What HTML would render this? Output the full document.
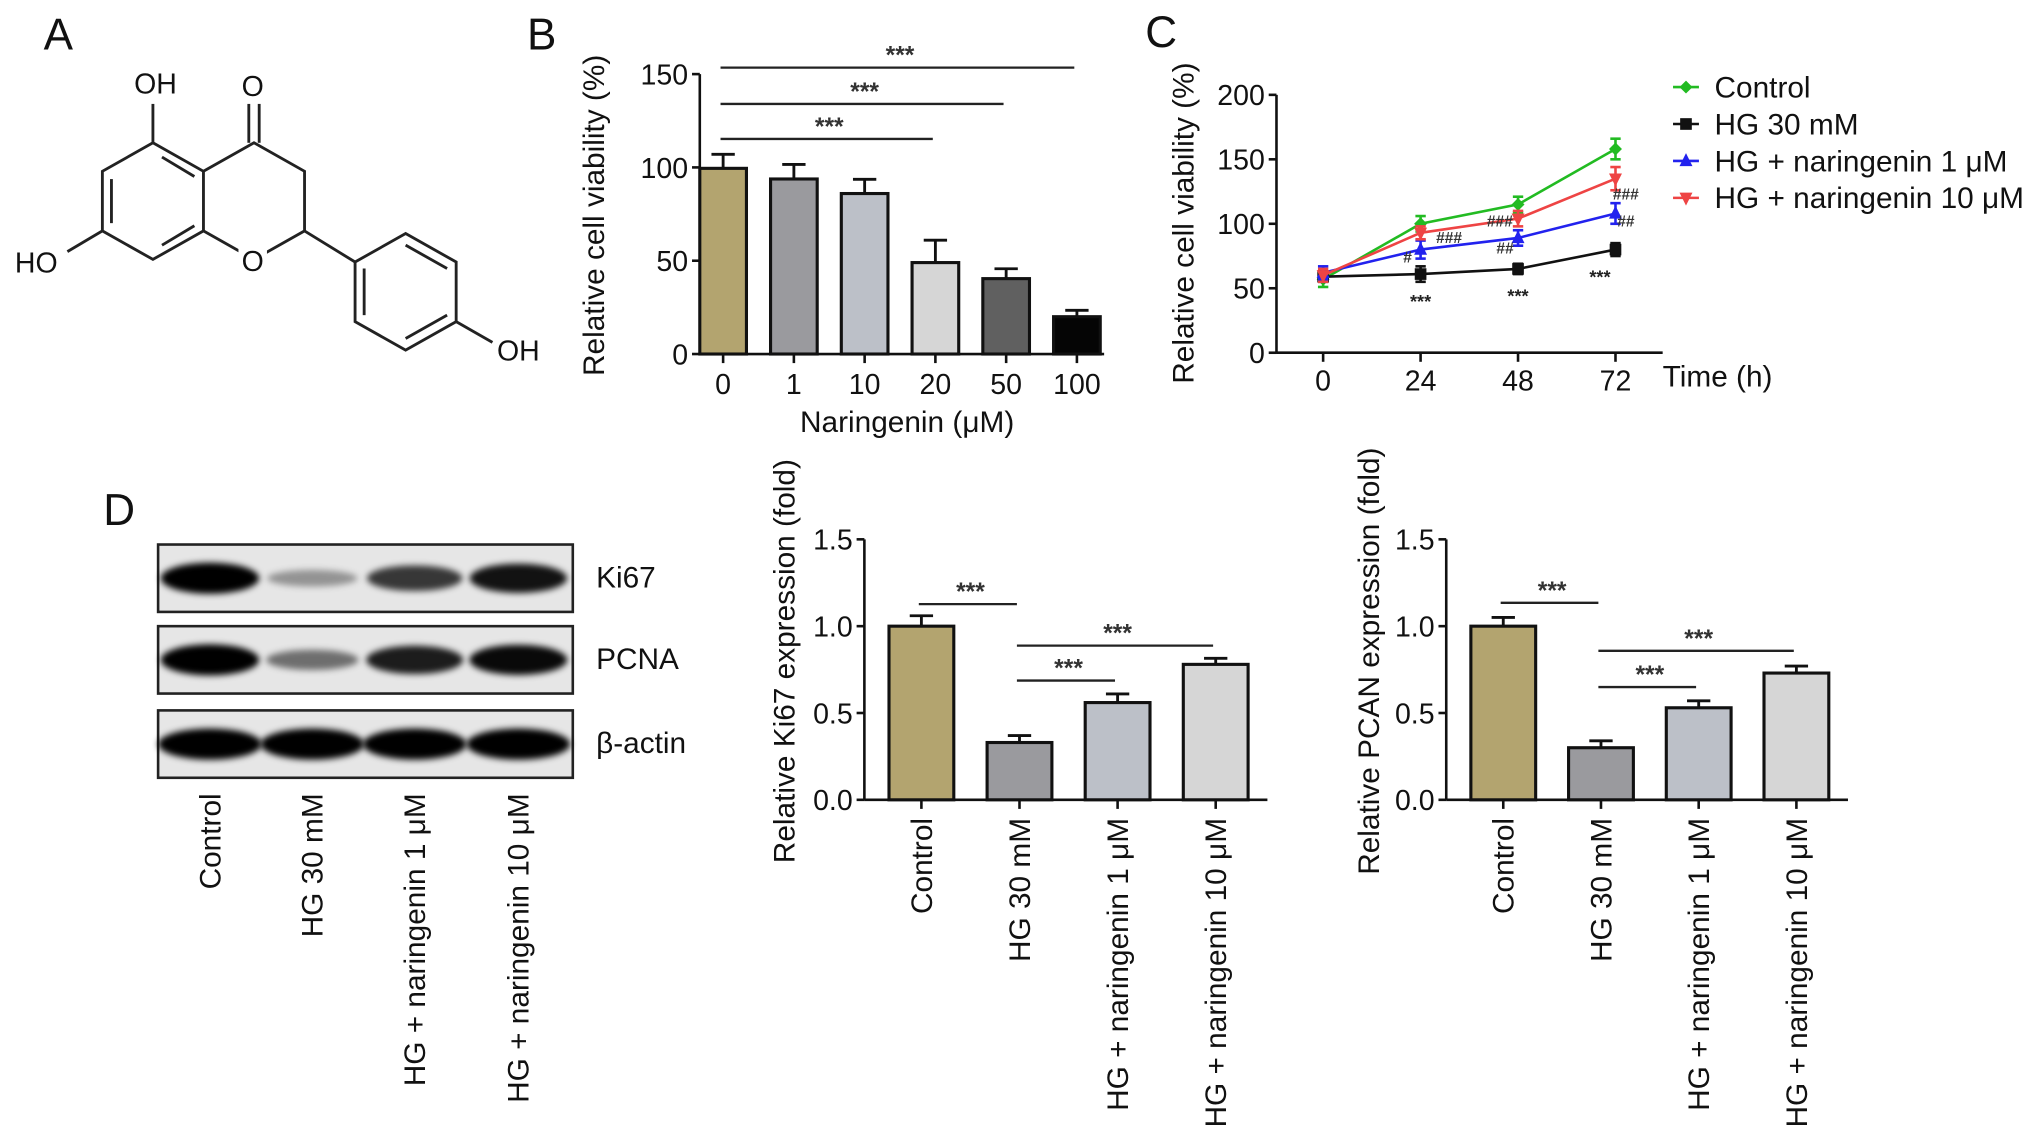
<!DOCTYPE html>
<html><head><meta charset="utf-8"><style>
html,body{margin:0;padding:0;background:#fff;}
svg{display:block;font-family:"Liberation Sans",Arial,sans-serif;}
</style></head><body>
<svg id="fig" width="2032" height="1137" viewBox="0 0 1568 877" xmlns="http://www.w3.org/2000/svg">
<defs>
<filter id="blur" x="-20%" y="-50%" width="140%" height="200%"><feGaussianBlur stdDeviation="2.5"/></filter>
</defs>
<g stroke="#222" stroke-width="2.2" fill="none">
<text x="45" y="38" font-size="34" fill="#111" stroke="none" text-anchor="middle">A</text>
<polygon points="118,110 157,132 157,178 118,200 79,178 79,132"/>
<line x1="125" y1="121" x2="150" y2="136"/><line x1="150" y1="174" x2="125" y2="189"/><line x1="86" y1="172" x2="86" y2="138"/>
<polyline points="157,132 196,110 235,132 235,178 196,200 157,178"/>
<line x1="118" y1="110" x2="118" y2="80"/>
<line x1="79" y1="178" x2="52" y2="194"/>
<line x1="192" y1="110" x2="192" y2="80"/><line x1="200" y1="110" x2="200" y2="80"/>
<line x1="235" y1="178" x2="274" y2="202"/>
<polygon points="313,180 352,202 352,248 313,270 274,248 274,202"/>
<line x1="313" y1="189" x2="345" y2="207"/><line x1="345" y1="243" x2="313" y2="261"/><line x1="281" y1="243" x2="281" y2="207"/>
<line x1="352" y1="248" x2="380" y2="264"/>
<g fill="#111" stroke="none" font-size="22" text-anchor="middle">
<rect x="184" y="190" width="22" height="22" fill="#fff"/>
<text x="120" y="72">OH</text><text x="195" y="74">O</text><text x="28" y="210">HO</text><text x="195" y="209">O</text><text x="400" y="278">OH</text>
</g>
</g>
<g id="pb"></g>
<g id="pc"></g>
<g id="pd"></g>
<g id="pk"></g>
<g id="pp"></g>
</svg>
<script>
const NS="http://www.w3.org/2000/svg";
// Panel B data
const bCats=["0","1","10","20","50","100"];
const bVals=[99.5,93.8,86,49,40.4,20];
const bErr=[7.5,7.8,7.6,12,5.3,3.4];
const bTicks=[0,50,100,150];
const bColors=["#b3a46f","#9a9a9e","#bcc0c8","#d6d6d6","#606060","#050505"];
// Panel C data
const cTimes=[0,24,48,72];
const cTicks=[0,50,100,150,200];
const cNames=["Control","HG 30 mM","HG + naringenin 1 μM","HG + naringenin 10 μM"];
const cControl=[57,100,115,158];
const cHG=[59,61,65,80];
const cN1=[62,80,89,108];
const cN10=[60,93,104,135];
const cErrC=[6,6,6,8];
const cErrH=[4,6,4,5];
const cErrN1=[5,7,6,8];
const cErrN10=[5,5,6,9];
// Panel D data
const dCats=["Control","HG 30 mM","HG + naringenin 1 μM","HG + naringenin 10 μM"];
const kVals=[1.0,0.33,0.56,0.78];
const kErr=[0.06,0.04,0.05,0.035];
const pVals=[1.0,0.30,0.53,0.73];
const pErr=[0.05,0.04,0.04,0.04];
const dTicks=["0.0","0.5","1.0","1.5"];
const dColors=["#b3a46f","#9a9a9e","#bcc0c8","#d6d6d6"];
const blotNames=["Ki67","PCNA","β-actin"];
const blotIntensity=[[1,0.2,0.7,0.9],[1,0.4,0.85,0.95],[1,1,1,1]];

const FT=22, FL=23;
function el(tag,attrs,parent,txt){const e=document.createElementNS(NS,tag);for(const k in attrs)e.setAttribute(k,attrs[k]);if(txt!==undefined)e.textContent=txt;parent.appendChild(e);return e;}

function barChart(g,o){
  const y=v=>o.y0-(v-o.min)/(o.max-o.min)*(o.y0-o.yTop);
  const x=i=>o.x0+i*o.step;
  const ax=el("g",{},g);
  
  
  el("line",{x1:o.ax,y1:o.y0,x2:o.ax,y2:o.yTop,stroke:"#111","stroke-width":2},ax);
  o.ticks.forEach(t=>{const v=parseFloat(t);const yy=y(v);
    el("line",{x1:o.ax-6,y1:yy,x2:o.ax,y2:yy,stroke:"#111","stroke-width":2},ax);
    const tt=el("text",{x:o.ax-9,y:yy+8,"font-size":FT,"text-anchor":"end",fill:"#111"},ax,t);
    
    
  });
  const xa=el("line",{x1:o.ax,y1:o.y0,x2:o.axEnd,y2:o.y0,stroke:"#111","stroke-width":2},g);
  
  
  o.vals.forEach((v,i)=>{const cx=x(i);const top=y(v);
    el("line",{x1:cx,y1:top,x2:cx,y2:y(v+o.err[i]),stroke:"#111","stroke-width":2.2},g);
    el("line",{x1:cx-9,y1:y(v+o.err[i]),x2:cx+9,y2:y(v+o.err[i]),stroke:"#111","stroke-width":2.2},g);
    const r=el("rect",{x:cx-o.bw/2,y:top,width:o.bw,height:o.y0-top,fill:o.colors[i],stroke:"#111","stroke-width":2.4},g);
    
    
    el("line",{x1:cx,y1:o.y0,x2:cx,y2:o.y0+7,stroke:"#111","stroke-width":2},g);
    let lab;
    if(o.rot){lab=el("text",{x:0,y:0,"font-size":FL,"text-anchor":"end",fill:"#111",transform:`translate(${cx+8},${o.y0+14}) rotate(-90)`},g,o.cats[i]);}
    else {lab=el("text",{x:cx,y:o.y0+31,"font-size":FT,"text-anchor":"middle",fill:"#111"},g,o.cats[i]);}
    
    
  });
  const yt=el("text",{x:0,y:0,"font-size":FL,"text-anchor":"middle",fill:"#111",transform:`translate(${o.ylx},${o.yly}) rotate(-90)`},g,o.ytitle);
  
  
  o.sig.forEach(s=>{
    const l=el("line",{x1:x(s[0])-2,y1:s[2],x2:x(s[1])-2,y2:s[2],stroke:"#222","stroke-width":1.8},g);
    
    
    const st=el("text",{x:(x(s[0])+x(s[1]))/2,y:s[2]-3,"font-size":19,"text-anchor":"middle",fill:"#333","font-weight":"bold"},g,"***");
    
    
  });
}

// Panel B
const pb=document.getElementById("pb");
el("text",{x:418,y:38,"font-size":34,fill:"#111","text-anchor":"middle"},pb,"B");
barChart(pb,{min:0,max:150,y0:273,yTop:57,ax:540,axEnd:852,x0:558,step:54.6,bw:36,vals:bVals,err:bErr,colors:bColors,cats:bCats,ticks:bTicks.map(String),rot:false,ytitle:"Relative cell viability (%)",ylx:466,yly:166,sig:[[0,5,52],[0,4,80],[0,3,107]]});
const bxt=el("text",{x:700,y:333,"font-size":FL,"text-anchor":"middle",fill:"#111"},pb,"Naringenin (μM)");



// Panel C
const pc=document.getElementById("pc");
el("text",{x:896,y:36,"font-size":34,fill:"#111","text-anchor":"middle"},pc,"C");
const cx0=1021,cdx=75.2/24,cy0=272,cyT=73;
const cxf=t=>cx0+t*cdx, cyf=v=>cy0-v/200*(cy0-cyT);
el("line",{x1:985,y1:cy0,x2:985,y2:cyT,stroke:"#111","stroke-width":2},pc);
el("line",{x1:985,y1:cy0,x2:1283,y2:cy0,stroke:"#111","stroke-width":2},pc);
cTicks.forEach(t=>{el("line",{x1:979,y1:cyf(t),x2:985,y2:cyf(t),stroke:"#111","stroke-width":2},pc);
  const tt=el("text",{x:976,y:cyf(t)+8,"font-size":FT,"text-anchor":"end",fill:"#111"},pc,String(t));
  
  });
cTimes.forEach(t=>{el("line",{x1:cxf(t),y1:cy0,x2:cxf(t),y2:cy0+7,stroke:"#111","stroke-width":2},pc);
  const tt=el("text",{x:cxf(t),y:cy0+29,"font-size":FT,"text-anchor":"middle",fill:"#111"},pc,String(t));
  
  });
const cxt=el("text",{x:1283,y:298,"font-size":FL,fill:"#111"},pc,"Time (h)");


const cyt=el("text",{x:0,y:0,"font-size":FL,"text-anchor":"middle",fill:"#111",transform:"translate(921,172) rotate(-90)"},pc,"Relative cell viability (%)");


const cSeries=[[cControl,cErrC,"#22bb22","d"],[cHG,cErrH,"#111","s"],[cN1,cErrN1,"#2222ee","t"],[cN10,cErrN10,"#ee4444","v"]];
function marker(g,x,y,c,k){
  if(k==="d")return el("polygon",{points:`${x},${y-5} ${x+5},${y} ${x},${y+5} ${x-5},${y}`,fill:c},g);
  if(k==="s")return el("rect",{x:x-4.5,y:y-4.5,width:9,height:9,fill:c},g);
  if(k==="t")return el("polygon",{points:`${x},${y-6} ${x+5},${y+4} ${x-5},${y+4}`,fill:c},g);
  return el("polygon",{points:`${x},${y+6} ${x+5},${y-4} ${x-5},${y-4}`,fill:c},g);
}
cSeries.forEach((s,si)=>{
  const sg=el("g",{},pc);
  
  
  el("polyline",{points:s[0].map((v,i)=>cxf(cTimes[i])+","+cyf(v)).join(" "),fill:"none",stroke:s[2],"stroke-width":2},sg);
  s[0].forEach((v,i)=>{const x=cxf(cTimes[i]);
    el("line",{x1:x,y1:cyf(v-s[1][i]),x2:x,y2:cyf(v+s[1][i]),stroke:s[2],"stroke-width":2},sg);
    el("line",{x1:x-4,y1:cyf(v-s[1][i]),x2:x+4,y2:cyf(v-s[1][i]),stroke:s[2],"stroke-width":2},sg);
    el("line",{x1:x-4,y1:cyf(v+s[1][i]),x2:x+4,y2:cyf(v+s[1][i]),stroke:s[2],"stroke-width":2},sg);
    const m=marker(sg,x,cyf(v),s[2],s[3]);
    
    
  });
});
[[24,cHG,14,"***",0],[48,cHG,14,"***",0],[72,cHG,14,"***",-12]].forEach(a=>{
  const i=cTimes.indexOf(a[0]);
  el("text",{x:cxf(a[0])+a[4],y:cyf(a[1][i])+a[2]+12,"font-size":14,"text-anchor":"middle",fill:"#222","font-weight":"bold"},pc,a[3]);
});
[[24,cN10,"###",22,8],[48,cN10,"###",-14,6],[24,cN1,"#",-10,10],[48,cN1,"##",-10,12],[72,cN10,"###",8,16],[72,cN1,"##",8,10]].forEach(a=>{
  const i=cTimes.indexOf(a[0]);
  el("text",{x:cxf(a[0])+a[3],y:cyf(a[1][i])+a[4],"font-size":12,"text-anchor":"middle",fill:"#333","font-weight":"bold"},pc,a[2]);
});
cSeries.forEach((s,si)=>{const ly=67+si*28.5;
  const lg=el("g",{},pc);
  
  
  el("line",{x1:1291,y1:ly,x2:1311,y2:ly,stroke:s[2],"stroke-width":2},lg);
  marker(lg,1301,ly,s[2],s[3]);
  el("text",{x:1323,y:ly+8,"font-size":FL,fill:"#111"},lg,cNames[si]);
});

// Panel D blot
const pd=document.getElementById("pd");
el("text",{x:92,y:405,"font-size":34,fill:"#111","text-anchor":"middle"},pd,"D");
const laneX=[162,241,320,400];
blotNames.forEach((n,r)=>{const top=[420,483,548][r];
  const bg=el("g",{},pd);
  
  
  el("rect",{x:122,y:top,width:320,height:52,fill:"#e6e6e6",stroke:"#222","stroke-width":2},bg);
  laneX.forEach((lx,i)=>{const k=blotIntensity[r][i];
    const h=r===2?20:(6+14*k);
    el("ellipse",{cx:lx,cy:top+26,rx:r===2?40:(34+4*k),ry:h/2+2,fill:`rgba(0,0,0,${0.2+0.8*k})`,filter:"url(#blur)"},bg);
  });
  el("text",{x:460,y:top+33,"font-size":FL,fill:"#111"},bg,n);
});
dCats.forEach((c,i)=>{const t=el("text",{x:0,y:0,"font-size":FL,"text-anchor":"end",fill:"#111",transform:`translate(${laneX[i]+8},612) rotate(-90)`},pd,c);
  
  });

barChart(document.getElementById("pk"),{min:0,max:1.5,y0:617,yTop:416,ax:667,axEnd:978,x0:711,step:75.7,bw:50,vals:kVals,err:kErr,colors:dColors,cats:dCats,ticks:dTicks,rot:true,ytitle:"Relative Ki67 expression (fold)",ylx:613,yly:510,sig:[[0,1,466],[1,3,498],[1,2,525]]});
barChart(document.getElementById("pp"),{min:0,max:1.5,y0:617,yTop:416,ax:1116,axEnd:1426,x0:1160,step:75.4,bw:50,vals:pVals,err:pErr,colors:dColors,cats:dCats,ticks:dTicks,rot:true,ytitle:"Relative PCAN expression (fold)",ylx:1064,yly:510,sig:[[0,1,465],[1,3,502],[1,2,530]]});
</script>
</body></html>
